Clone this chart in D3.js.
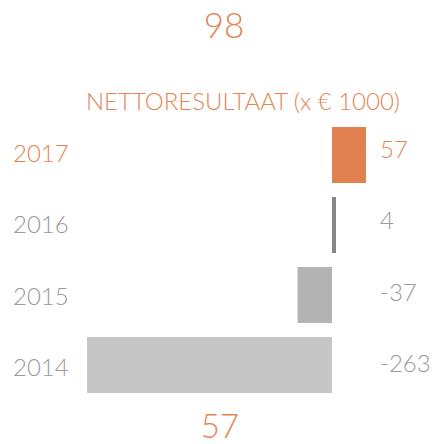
<!DOCTYPE html>
<html><head><meta charset="utf-8">
<script src="https://cdn.jsdelivr.net/npm/d3@7"></script>
<style>html,body{margin:0;padding:0;background:#fff;}svg{display:block;font-family:Lato,"Open Sans",sans-serif;font-weight:300;}</style>
</head><body>
<svg id="c" width="432" height="444"></svg>
<script>
const years = ["2017", "2016", "2015", "2014"];
const values = [57, 4, -37, -263];
const barColors = ["#E0814F", "#868686", "#B3B3B3", "#C6C6C6"];
const labelColors = ["#E38654", "#9A9A9A", "#9A9A9A", "#9A9A9A"];
const topValue = "98";
const bottomValue = "57";
const title = "NETTORESULTAAT (x € 1000)";

const svg = d3.select("#c");
const orange = "#E38654";

const x = d3.scaleLinear().domain([d3.min(values), 0, d3.max(values)]).range([87, 332, 366]);
const y = d3.scaleBand().domain(years).range([127, 393]).paddingInner(0.2).paddingOuter(0.0);
const yText = d3.scaleBand().domain(years).range([126, 412]);

svg.append("text").attr("x", 224).attr("y", 38).attr("text-anchor", "middle")
  .attr("fill", orange).attr("font-size", 35).text(topValue);

svg.append("text").attr("x", 86).attr("y", 110).attr("fill", orange)
  .attr("font-size", 23.5).attr("textLength", 314).attr("lengthAdjust", "spacingAndGlyphs").text(title);

svg.selectAll("rect.bar").data(values).join("rect").attr("class", "bar")
  .attr("x", d => Math.min(x(0), x(d)))
  .attr("width", d => Math.max(4, Math.abs(x(d) - x(0))))
  .attr("y", (d, i) => y(years[i]))
  .attr("height", y.bandwidth())
  .attr("fill", (d, i) => barColors[i]);

svg.selectAll("text.year").data(years).join("text").attr("class", "year")
  .attr("x", 13).attr("y", d => yText(d) + yText.bandwidth() / 2 + 0)
  .attr("fill", (d, i) => labelColors[i]).attr("font-size", 24).text(d => d);

svg.selectAll("text.val").data(values).join("text").attr("class", "val")
  .attr("x", 380).attr("y", (d, i) => yText(years[i]) + yText.bandwidth() / 2 - 4)
  .attr("fill", (d, i) => labelColors[i]).attr("font-size", 24).text(d => d);

svg.append("text").attr("x", 220).attr("y", 438).attr("text-anchor", "middle")
  .attr("fill", orange).attr("font-size", 33).text(bottomValue);
</script>
</body></html>
